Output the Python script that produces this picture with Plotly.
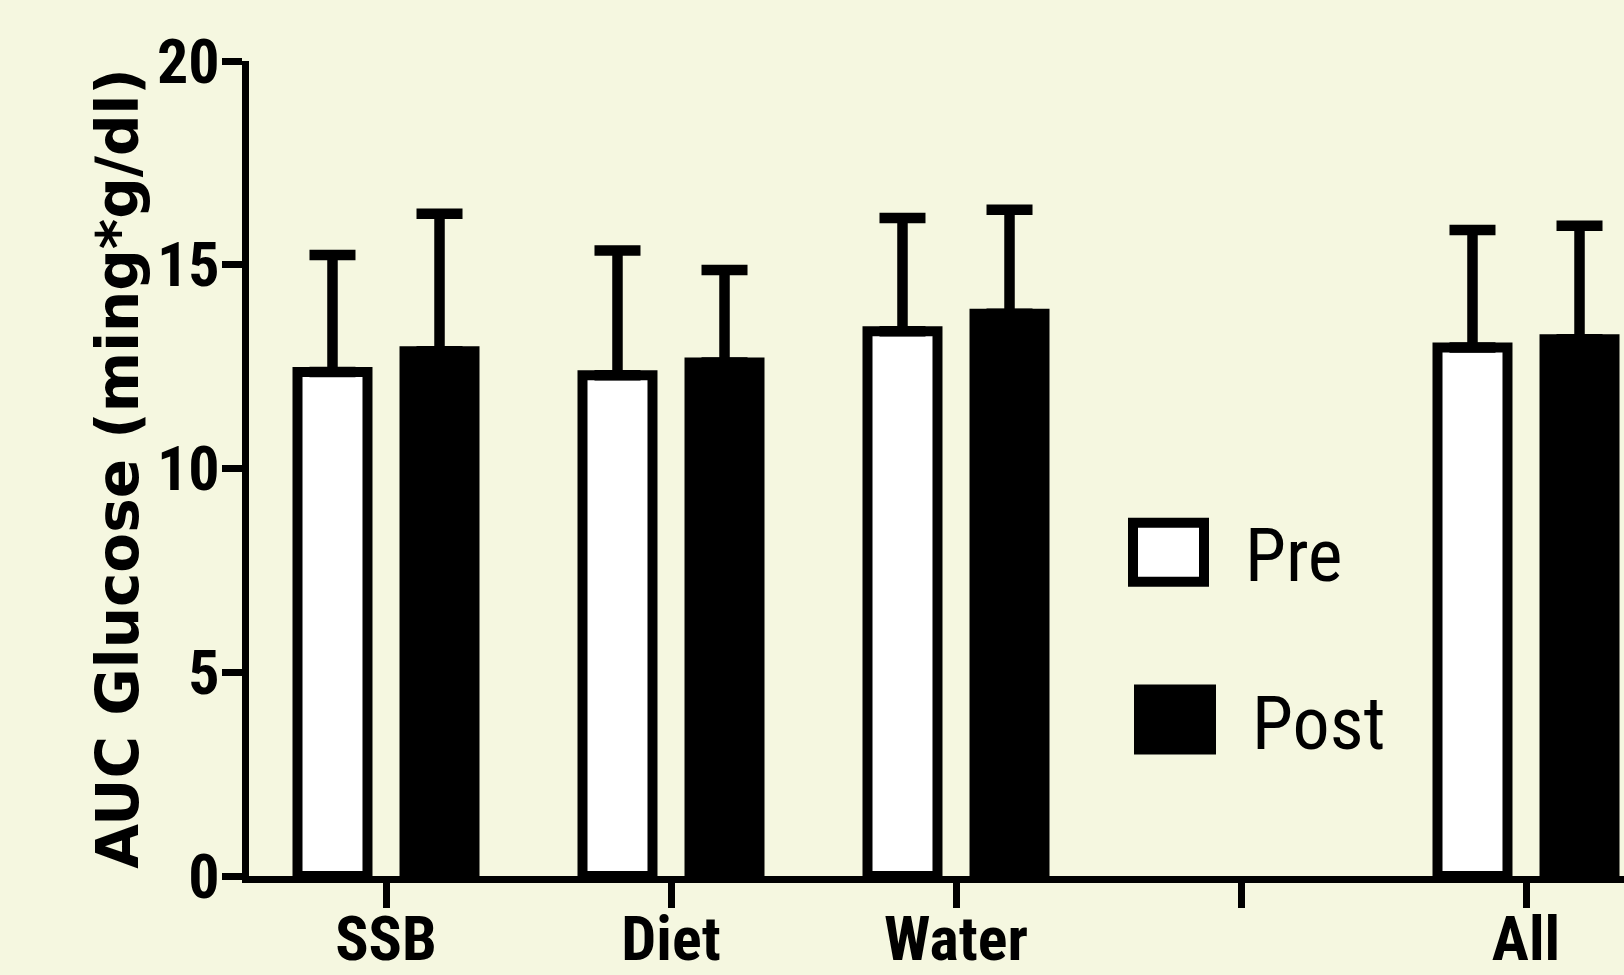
import plotly.graph_objects as go

# ---- data ----
categories = ["SSB", "Diet", "Water", " ", "All"]
tick_labels = ["SSB", "Diet", "Water", "", "All"]
pre_mean = [12.37, 12.29, 13.37, None, 12.97]
pre_err = [2.87, 3.06, 2.78, None, 2.88]
post_mean = [12.88, 12.60, 13.80, None, 13.17]
post_err = [3.37, 2.27, 2.55, None, 2.79]
y_ticks = [0, 5, 10, 15, 20]
series_names = ["Pre", "Post"]

BG = "#F5F7E0"
NARROW = "Liberation Sans Narrow, Arial Narrow, Roboto Condensed, Liberation Sans, Arial, sans-serif"

W, H = 1624, 975
ML, MR, MT, MB = 249, 0, 61, 98.5

fig = go.Figure()
fig.add_trace(go.Bar(
    name=series_names[0], x=categories, y=pre_mean,
    marker=dict(color="white", line=dict(color="black", width=10)),
    error_y=dict(type="data", array=pre_err, symmetric=False,
                 arrayminus=[0 if v is not None else None for v in pre_err],
                 color="black", thickness=10.5, width=23),
    showlegend=False,
))
fig.add_trace(go.Bar(
    name=series_names[1], x=categories, y=post_mean,
    marker=dict(color="black", line=dict(color="black", width=10)),
    error_y=dict(type="data", array=post_err, symmetric=False,
                 arrayminus=[0 if v is not None else None for v in post_err],
                 color="black", thickness=10.5, width=23),
    showlegend=False,
))

plot_w = W - ML - MR
plot_h = H - MT - MB
px_per_cat = 285.0
x_left = (ML - 386) / px_per_cat
x_right = x_left + plot_w / px_per_cat

fig.update_layout(
    width=W, height=H,
    margin=dict(l=ML, r=MR, t=MT, b=MB, pad=0, autoexpand=False),
    paper_bgcolor=BG, plot_bgcolor=BG,
    barmode="group", bargap=0.249, bargroupgap=0.346,
    showlegend=False,
    xaxis=dict(
        type="category", categoryorder="array", categoryarray=categories,
        tickvals=categories, ticktext=tick_labels,
        range=[x_left, x_right], automargin=False,
        showline=True, linecolor="black", linewidth=7,
        ticks="outside", ticklen=25, tickwidth=7, tickcolor="black",
        ticklabelstandoff=-22,
        showgrid=False, zeroline=False,
        tickfont=dict(family=NARROW, size=62, color="black", weight="bold"),
    ),
    yaxis=dict(
        range=[0, 20], tickvals=y_ticks, automargin=False,
        showline=True, linecolor="black", linewidth=7,
        ticks="outside", ticklen=20, tickwidth=7, tickcolor="black",
        ticklabelstandoff=-10,
        showgrid=False, zeroline=False,
        tickfont=dict(family=NARROW, size=62, color="black", weight="bold"),
        title=dict(text="AUC Glucose (ming*g/dl)", standoff=2,
                   font=dict(family="DejaVu Sans, Verdana, sans-serif", size=58,
                             color="black", weight="bold")),
    ),
)

def px2paper_x(px):
    return (px - ML) / plot_w

def px2paper_y(py):
    return (H - MB - py) / plot_h

# custom large legend (keys and labels)
fig.add_shape(type="rect", xref="paper", yref="paper",
              x0=px2paper_x(1133), x1=px2paper_x(1204),
              y0=px2paper_y(582), y1=px2paper_y(523),
              fillcolor="white", line=dict(color="black", width=10))
fig.add_shape(type="rect", xref="paper", yref="paper",
              x0=px2paper_x(1134), x1=px2paper_x(1216),
              y0=px2paper_y(755), y1=px2paper_y(685),
              fillcolor="black", line=dict(width=0))
fig.add_annotation(xref="paper", yref="paper", x=px2paper_x(1243), y=px2paper_y(556),
                   text=series_names[0], showarrow=False, xanchor="left", yanchor="middle",
                   font=dict(family=NARROW, size=74, color="black"))
fig.add_annotation(xref="paper", yref="paper", x=px2paper_x(1250), y=px2paper_y(724),
                   text=series_names[1], showarrow=False, xanchor="left", yanchor="middle",
                   font=dict(family=NARROW, size=74, color="black"))

fig.write_html(
    "out.html",
    config={"displayModeBar": False},
    post_script="document.body.style.margin='0px';"
                "document.body.style.overflow='hidden';"
                "document.body.style.background='" + BG + "';",
)
